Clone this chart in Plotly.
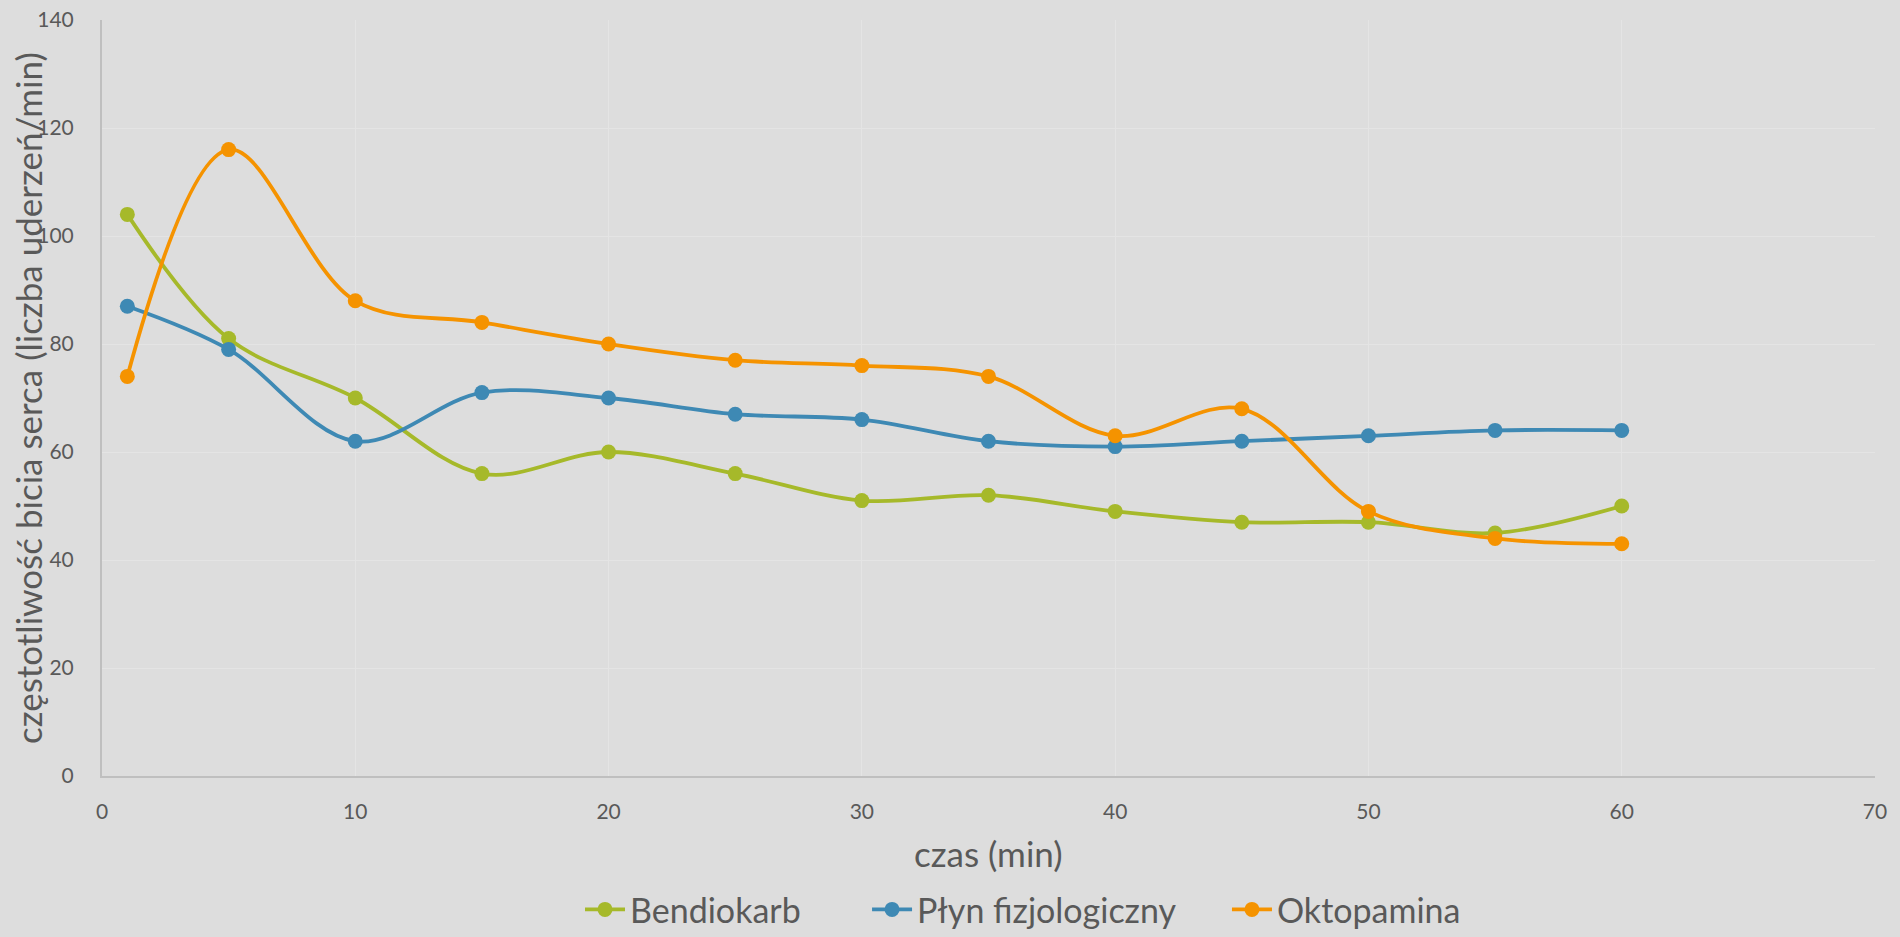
import plotly.graph_objects as go

czas = [1, 5, 10, 15, 20, 25, 30, 35, 40, 45, 50, 55, 60]
bendiokarb = [104, 81, 70, 56, 60, 56, 51, 52, 49, 47, 47, 45, 50]
plyn = [87, 79, 62, 71, 70, 67, 66, 62, 61, 62, 63, 64, 64]
oktopamina = [74, 116, 88, 84, 80, 77, 76, 74, 63, 68, 49, 44, 43]

series_names = ["Bendiokarb", "Płyn fizjologiczny", "Oktopamina"]
series_values = [bendiokarb, plyn, oktopamina]
colors = ["#A6B92A", "#3E89B4", "#F59300"]
legend_ids = ["legend", "legend2", "legend3"]
legend_x = [0.2696, 0.4315, 0.6345]

FONT = "Lato"
TEXT = "#595959"

fig = go.Figure()
for name, vals, col, lg in zip(series_names, series_values, colors, legend_ids):
    fig.add_trace(go.Scatter(
        x=czas, y=vals, name=name, mode="lines+markers", legend=lg,
        line=dict(color=col, width=3.8, shape="spline", smoothing=1.0),
        marker=dict(color=col, size=15),
    ))

legend_common = dict(orientation="h", xanchor="left", y=-0.177, yanchor="middle",
                     font=dict(size=34, color=TEXT, family=FONT), bgcolor="rgba(0,0,0,0)",
                     itemwidth=40)
fig.update_layout(
    width=1900, height=937,
    paper_bgcolor="#DDDDDD", plot_bgcolor="#DDDDDD",
    margin=dict(l=102, r=25, t=20, b=161, autoexpand=False),
    font=dict(family=FONT, color=TEXT),
    showlegend=True,
    legend=dict(x=legend_x[0], **legend_common),
    legend2=dict(x=legend_x[1], **legend_common),
    legend3=dict(x=legend_x[2], **legend_common),
)
fig.update_xaxes(
    range=[0, 70], dtick=10, tick0=0, automargin=False,
    showgrid=True, gridcolor="#E4E4E4", gridwidth=1,
    showline=True, linecolor="#BFBFBF", linewidth=2,
    zeroline=False, ticks="", ticklabelstandoff=16,
    tickfont=dict(size=21, color=TEXT),
)
fig.update_yaxes(
    range=[0, 140], dtick=20, tick0=0, automargin=False,
    showgrid=True, gridcolor="#E4E4E4", gridwidth=1,
    showline=True, linecolor="#BFBFBF", linewidth=2,
    zeroline=False, ticks="", ticklabelstandoff=22,
    tickfont=dict(size=21, color=TEXT),
)
fig.add_annotation(
    text="czas (min)",
    xref="paper", yref="paper", x=0.5, y=(776 - 853) / 756,
    xanchor="center", yanchor="middle", showarrow=False,
    font=dict(size=35, color=TEXT, family=FONT),
)
fig.add_annotation(
    text="częstotliwość bicia serca (liczba uderzeń/min)",
    xref="paper", yref="paper", x=(28 - 102) / 1773, y=0.5,
    xanchor="center", yanchor="middle", textangle=-90, showarrow=False,
    font=dict(size=35, color=TEXT, family=FONT),
)

fig.write_html("out.html", config={"displayModeBar": False},
               post_script="document.body.style.margin='0';")
